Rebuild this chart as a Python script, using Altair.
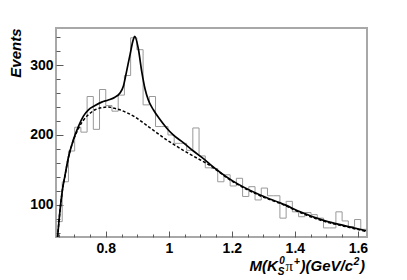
import altair as alt
import pandas as pd

# ---------------- data ----------------
X_MIN, X_MAX = 0.642, 1.629
Y_MIN, Y_MAX = 54, 353
N_BINS = 50
counts = [76, 133, 177, 211, 204, 255, 208, 265, 242, 234,
          257, 285, 339, 322, 243, 255, 212, 212, 200, 188,
          188, 178, 210, 170, 153, 152, 133, 143, 127, 138,
          112, 126, 107, 124, 113, 113, 81, 105, 90, 83,
          89, 86, 81, 67, 67, 90, 77, 69, 79, 65]

fit_mass = [0.647, 0.655, 0.662, 0.671, 0.681, 0.697, 0.713, 0.729, 0.745, 0.766,
            0.787, 0.808, 0.829, 0.845, 0.856, 0.866, 0.877, 0.887, 0.892, 0.903,
            0.914, 0.925, 0.935, 0.951, 0.972, 0.993, 1.014, 1.046, 1.078, 1.110,
            1.131, 1.200, 1.290, 1.369, 1.417, 1.496, 1.560, 1.626]
fit_total = [54, 93, 120, 143, 167, 193, 212, 227, 236, 242,
             247, 250, 254, 260, 270, 291, 315, 336, 341, 324,
             291, 265, 250, 236, 222, 210, 200, 189, 177, 166,
             158, 135, 114, 100, 90, 77, 70, 63]

bkg_mass = [0.647, 0.655, 0.662, 0.671, 0.681, 0.697, 0.713, 0.729, 0.745, 0.766,
            0.787, 0.808, 0.829, 0.845, 0.866, 0.892, 0.914, 0.935, 0.962, 0.993,
            1.014, 1.046, 1.089, 1.125, 1.200, 1.290, 1.369, 1.417, 1.496, 1.560,
            1.626]
bkg_vals = [54, 93, 120, 143, 167, 192, 209, 221, 229, 236,
            239, 240, 238, 236, 232, 226, 219, 212, 203, 193,
            187, 178, 167, 158, 134, 113, 99, 89, 76, 69,
            62]

x_major = [0.8, 1.0, 1.2, 1.4, 1.6]
x_minor = [0.65, 0.70, 0.75, 0.85, 0.90, 0.95, 1.05, 1.10, 1.15, 1.25, 1.30,
           1.35, 1.45, 1.50, 1.55]
y_major = [100, 200, 300]
y_minor = [60, 80, 120, 140, 160, 180, 220, 240, 260, 280, 320, 340]

# ---------------- tables ----------------
bw = (X_MAX - X_MIN) / N_BINS
edges = [X_MIN + i * bw for i in range(N_BINS + 1)]
hist_df = pd.DataFrame({"m": edges, "n": counts + [counts[-1]]})
fit_df = pd.DataFrame({"m": fit_mass, "n": fit_total})
bkg_df = pd.DataFrame({"m": bkg_mass, "n": bkg_vals})

W, H = 311, 209
FONT = "Liberation Sans"
TICK = "#5a5a5a"

xs = alt.Scale(domain=[X_MIN, X_MAX], nice=False, zero=False)
ys = alt.Scale(domain=[Y_MIN, Y_MAX], nice=False, zero=False)


def tick_x(values, size):
    return alt.Axis(orient="top", offset=-H, values=values, tickSize=size, labels=False,
                    domain=False, grid=False, title=None, tickColor=TICK, tickWidth=1)


def tick_y(values, size):
    return alt.Axis(orient="right", offset=-W, values=values, tickSize=size, labels=False,
                    domain=False, grid=False, title=None, tickColor=TICK, tickWidth=1)


hist = alt.Chart(hist_df).mark_line(
    interpolate="step-after", color="#999999", strokeWidth=1, clip=True
).encode(
    x=alt.X("m:Q", scale=xs, axis=alt.Axis(
        orient="bottom", values=x_major, format="~g", ticks=False, domain=False, grid=False,
        title=None, labelFont=FONT, labelFontSize=14, labelFontWeight="bold",
        labelColor="black", labelPadding=4, labelOverlap=False)),
    y=alt.Y("n:Q", scale=ys, axis=alt.Axis(
        orient="left", values=y_major, format="d", ticks=False, domain=False, grid=False,
        labelFont=FONT, labelFontSize=14, labelFontWeight="bold", labelColor="black",
        labelPadding=3, title="Events", titleFont=FONT, titleFontSize=15,
        titleFontWeight="bold", titleFontStyle="italic", titleColor="black",
        titleAngle=270, titleAlign="right", titleBaseline="alphabetic",
        titleX=-36, titleY=0)),
)

fit = alt.Chart(fit_df).mark_line(
    interpolate="monotone", color="black", strokeWidth=1.7, clip=True
).encode(
    x=alt.X("m:Q", scale=xs, axis=tick_x(x_major, 6)),
    y=alt.Y("n:Q", scale=ys, axis=tick_y(y_major, 7)),
)

bkg = alt.Chart(bkg_df).mark_line(
    interpolate="monotone", color="black", strokeWidth=1.5, strokeDash=[3, 2], clip=True
).encode(
    x=alt.X("m:Q", scale=xs, axis=tick_x(x_minor, 3)),
    y=alt.Y("n:Q", scale=ys, axis=tick_y(y_minor, 4)),
)

# x-axis title built from pieces (sub/superscripts)
BASE = 242.5
pieces = [
    ("M(K", 193.5, BASE, 15, FONT, "bold", "italic"),
    ("S", 221.8, BASE + 4, 10, FONT, "bold", "italic"),
    ("0", 223.3, BASE - 6.5, 10, FONT, "bold", "italic"),
    ("\u03c0", 229.6, BASE, 15, "Liberation Serif", "normal", "normal"),
    ("+", 238.0, BASE - 5.5, 10.5, FONT, "bold", "normal"),
    (")(GeV/c", 244.6, BASE, 15, FONT, "bold", "italic"),
    ("2", 297.6, BASE - 6, 10.5, FONT, "bold", "italic"),
    (")", 304.0, BASE, 15, FONT, "bold", "italic"),
]
text_layers = []
for txt, px, py, fs, fnt, fw, fst in pieces:
    text_layers.append(
        alt.Chart(pd.DataFrame({"t": [txt]})).mark_text(
            align="left", baseline="alphabetic", font=fnt, fontSize=fs,
            fontWeight=fw, fontStyle=fst, color="black"
        ).encode(x=alt.value(px), y=alt.value(py), text="t:N")
    )

chart = alt.layer(hist, fit, bkg, *text_layers).resolve_axis(
    x="independent", y="independent"
).properties(
    width=W, height=H,
    autosize=alt.AutoSizeParams(type="none"),
    padding={"left": 48, "top": 20, "right": 30, "bottom": 43},
).configure_view(stroke="#a8a8a8", strokeWidth=2)

chart.save("out.html", embed_options={"renderer": "svg", "actions": False})
